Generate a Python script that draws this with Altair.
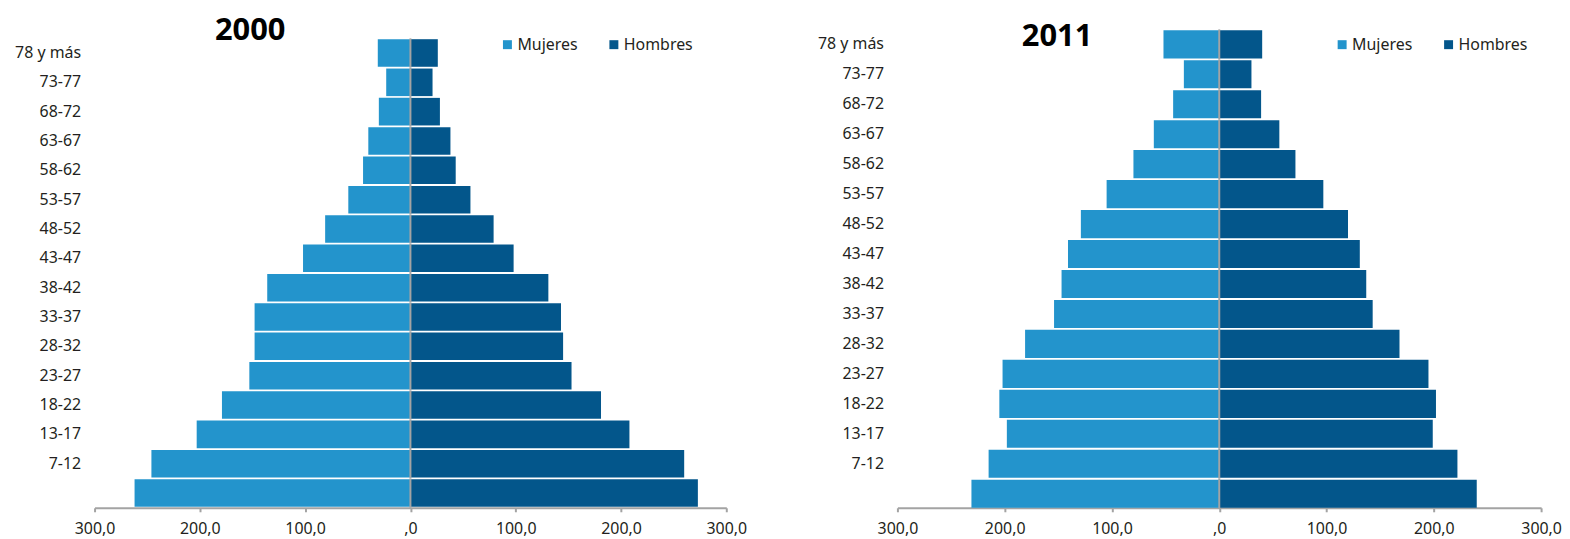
import altair as alt
import pandas as pd

# ---------------- data ----------------
grupos = ["78 y más", "73-77", "68-72", "63-67", "58-62", "53-57", "48-52",
          "43-47", "38-42", "33-37", "28-32", "23-27", "18-22", "13-17",
          "7-12", "0-6"]

mujeres_2000 = [31, 23, 30, 40, 45, 59, 81, 102, 136, 148, 148, 153, 179, 203, 246, 262]
hombres_2000 = [26, 21, 28, 38, 43, 57, 79, 98, 131, 143, 145, 153, 181, 208, 260, 273]

mujeres_2011 = [52, 33, 43, 61, 80, 105, 129, 141, 147, 154, 181, 202, 205, 198, 215, 231]
hombres_2011 = [40, 30, 39, 56, 71, 97, 120, 131, 137, 143, 168, 195, 202, 199, 222, 240]

sexos = ["Mujeres", "Hombres"]
colores = ["#2394cc", "#03568b"]
ticks_x = [-300, -200, -100, 0, 100, 200, 300]

GRAY = "#a3a3a3"
TXT = "#231f20"
FONT = "Noto Sans"


def tabla(mujeres, hombres):
    filas = []
    for g, m, h in zip(grupos, mujeres, hombres):
        filas.append({"grupo": g, "sexo": "Mujeres", "valor": -m, "abs": m})
        filas.append({"grupo": g, "sexo": "Hombres", "valor": h, "abs": h})
    return pd.DataFrame(filas)


def panel(df, anio, width, height, yrange, title_dx, title_off, legend_x, legend_y):
    scale_kw = dict(domain=grupos, paddingInner=0.06, paddingOuter=0)
    if yrange is not None:
        scale_kw["range"] = yrange
        step = (yrange[1] - yrange[0]) / len(grupos)
    else:
        step = height / len(grupos)
    yscale = alt.Scale(**scale_kw)
    xscale = alt.Scale(domain=[-300, 300], nice=False)

    xaxis = alt.Axis(
        values=ticks_x,
        labelExpr="datum.value == 0 ? ',0' : (abs(datum.value) + ',0')",
        title=None, grid=False, domainColor=GRAY, domainWidth=2,
        tickColor=GRAY, tickWidth=2, tickSize=4, labelPadding=9,
        labelFlush=False,
        labelFontSize=16, labelFont=FONT, labelColor=TXT,
    )
    yaxis = alt.Axis(
        title=None, domain=False, ticks=False, labelPadding=14,
        labelExpr="datum.value == '0-6' ? '' : datum.value",
        labelFontSize=16, labelFont=FONT, labelColor=TXT,
    )

    bars = alt.Chart(df).mark_bar().encode(
        x=alt.X("valor:Q", scale=xscale, axis=xaxis),
        y=alt.Y("grupo:N", sort=grupos, scale=yscale, axis=yaxis),
        color=alt.Color(
            "sexo:N",
            scale=alt.Scale(domain=sexos, range=colores),
            legend=alt.Legend(
                orient="none", legendX=legend_x, legendY=legend_y,
                direction="horizontal", title=None, symbolType="square",
                symbolSize=81, symbolStrokeWidth=0, labelFontSize=16,
                labelFont=FONT, labelColor=TXT, columnPadding=28,
                labelOffset=2,
            ),
        ),
        tooltip=[alt.Tooltip("grupo:N"), alt.Tooltip("sexo:N"), alt.Tooltip("abs:Q")],
    )

    center = alt.Chart(df).mark_tick(
        color=GRAY, thickness=2, size=step, opacity=1
    ).encode(
        x=alt.X("valor:Q", scale=xscale, axis=xaxis),
        y=alt.Y("grupo:N", sort=grupos, scale=yscale, axis=yaxis),
    ).transform_filter("datum.sexo == 'Mujeres'").transform_calculate(valor="0")

    return alt.layer(bars, center).properties(
        width=width,
        height=height,
        title=alt.TitleParams(
            text=anio, fontSize=31, fontWeight="bold", font=FONT, color="#000000",
            anchor="start", frame="group", dx=title_dx, offset=title_off,
        ),
    )


left = panel(tabla(mujeres_2000, hombres_2000), "2000", 635, 480, [9, 479],
             121, -16.5, 407, 6.5)
right = panel(tabla(mujeres_2011, hombres_2011), "2011", 647, 480, None,
              125, -23.5, 439, 6.5)

chart = alt.hconcat(left, right, spacing=172, bounds="flush").resolve_scale(
    x="independent", y="independent", color="independent"
).resolve_legend(color="independent").properties(
    padding={"left": 6, "top": 5, "right": 0, "bottom": 0}
).configure(font=FONT).configure_view(stroke=None)

chart.save("out.html", embed_options={"renderer": "svg", "actions": False})
